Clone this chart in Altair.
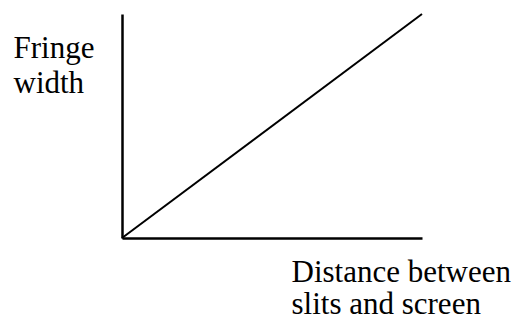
import altair as alt
import pandas as pd

# data: straight line through the origin (fringe width proportional to distance)
distance = [0.0, 1.0]
fringe_width = [0.0, 1.0]
x_title = ["Distance between", "slits and screen"]
y_title = ["Fringe", "width"]

df = pd.DataFrame({"distance": distance, "fringe": fringe_width})

FONT = "Liberation Serif"

chart = (
    alt.Chart(df)
    .mark_line(color="black", strokeWidth=2)
    .encode(
        x=alt.X(
            "distance:Q",
            scale=alt.Scale(domain=[0, 1], nice=False, zero=False),
            axis=alt.Axis(
                title=x_title,
                titleX=169,
                titleY=43,
                titleLineHeight=32,
            ),
        ),
        y=alt.Y(
            "fringe:Q",
            scale=alt.Scale(domain=[0, 1], nice=False, zero=False),
            axis=alt.Axis(
                title=y_title,
                titleX=-109,
                titleY=43,
                titleLineHeight=35,
            ),
        ),
    )
    .properties(
        width=300,
        height=224,
        autosize=alt.AutoSizeParams(type="none"),
        padding={"left": 114, "top": 6, "right": 93, "bottom": 79},
        background="white",
    )
    .configure(font=FONT)
    .configure_axis(
        grid=False,
        ticks=False,
        labels=False,
        domainColor="black",
        domainWidth=2.5,
        titleFont=FONT,
        titleFontSize=31,
        titleFontWeight="normal",
        titleColor="black",
        titleAngle=0,
        titleAlign="left",
        titleBaseline="alphabetic",
    )
    .configure_view(strokeWidth=0)
)

chart.save("out.html", embed_options={"renderer": "svg", "actions": False})
